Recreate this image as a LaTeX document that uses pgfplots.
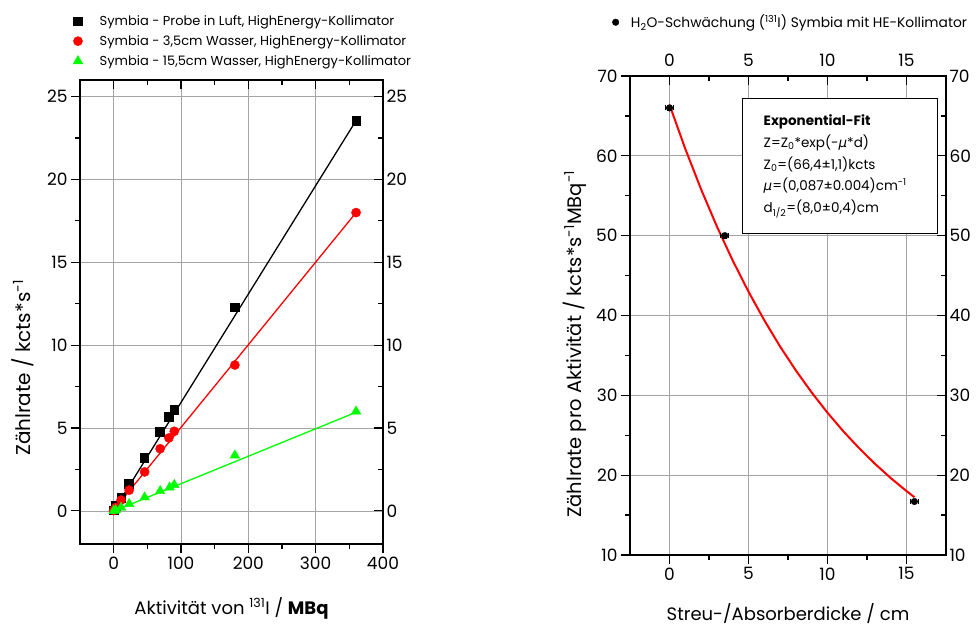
\documentclass[border=0pt]{standalone}
\usepackage{fontspec}
\setmainfont{Poppins}
\newfontfamily\gfont{DejaVu Sans}
\usepackage{pgfplots}
\pgfplotsset{compat=1.18}
\definecolor{mygreen}{RGB}{0,255,0}
\definecolor{myred}{RGB}{255,0,0}
\definecolor{gridgray}{RGB}{165,165,165}
\newcommand{\mmu}{{\gfont\itshape μ}}
\pgfplotsset{
  base/.style={scale only axis, anchor=south west,
    axis line style={line width=1.4pt},
    every tick/.style={black, line width=1.2pt},
    major tick length=9pt, minor tick length=5pt,
    tick label style={font=\fontsize{17}{20}\selectfont},
    /pgf/number format/assume math mode=true,
    label style={font=\fontsize{18}{21}\selectfont},
  },
  lpos/.style={at={(80pt,83pt)}, width=303pt, height=464pt,
    xmin=-50, xmax=400, ymin=-2, ymax=26,
    xtick={0,100,200,300,400}, ytick={0,5,10,15,20,25},
    minor x tick num=1, minor y tick num=1},
  rpos/.style={at={(630pt,72pt)}, width=316pt, height=479pt,
    xmin=-2.5, xmax=17.5, ymin=10, ymax=70,
    xtick={0,5,10,15}, ytick={10,20,30,40,50,60,70},
    minor x tick num=1, minor y tick num=1},
}
\begin{document}
\begin{tikzpicture}
\useasboundingbox (0pt,0pt) rectangle (979pt,627pt);
% ---------------- left plot ----------------
\begin{axis}[base, lpos,
  tick align=outside, xtick pos=left, ytick pos=left,
  grid=major, major grid style={gridgray, line width=0.7pt},
  xlabel={Aktivität von \textsuperscript{131}I / \textbf{MBq}},
  ylabel={Zählrate / kcts*s\textsuperscript{-1}},
  xlabel style={at={(axis description cs:0.5,-0.151)}, anchor=base},
  ylabel style={at={(axis description cs:-0.188,0.38)}, anchor=center, font=\fontsize{20}{23}\selectfont},
  legend style={at={(axis description cs:-0.033,1.148)}, anchor=north west, draw=none, fill=none,
    font=\fontsize{13}{15}\selectfont, row sep=4.5pt, column sep=15pt},
  legend cell align=left,
]
\addplot[black, line width=1.3pt, forget plot] coordinates {(0,0.0) (360,23.55)};
\addplot[myred, line width=1.3pt, forget plot] coordinates {(0,0.05) (360,18.0)};
\addplot[mygreen, line width=1.3pt, forget plot] coordinates {(-5,-0.1) (360,5.95)};
\addplot[only marks, mark=square*, mark size=4.3pt, mark options={draw=black, fill=black}] coordinates {
 (0,0.05) (3,0.3) (11,0.78) (22.5,1.63) (45.5,3.2) (68,4.78) (82,5.7) (90,6.12) (180,12.3) (360,23.55)};
\addlegendentry{Symbia - Probe in Luft, HighEnergy-Kollimator}
\addplot[only marks, mark=*, mark size=4.6pt, mark options={draw=myred, fill=myred}] coordinates {
 (0,0.02) (3,0.2) (11,0.65) (23,1.25) (46,2.35) (69,3.75) (82,4.4) (90,4.8) (180,8.8) (360,18.0)};
\addlegendentry{Symbia - 3,5cm Wasser, HighEnergy-Kollimator}
\addplot[only marks, mark=triangle*, mark size=5.5pt, mark options={draw=mygreen, fill=mygreen}] coordinates {
 (0,0) (3,0.05) (11,0.2) (23,0.42) (46,0.82) (69,1.2) (83,1.42) (90,1.57) (180,3.35) (360,6.0)};
\addlegendentry{Symbia - 15,5cm Wasser, HighEnergy-Kollimator}
\end{axis}
\begin{axis}[base, lpos,
  tick align=inside, xtick pos=right, ytick pos=right,
  xticklabels={}, yticklabel pos=right,
]
\end{axis}
% ---------------- right plot ----------------
\begin{axis}[base, rpos,
  tick align=outside, xtick pos=left, ytick pos=left,
  grid=major, major grid style={gridgray, line width=0.7pt},
  xlabel={Streu-/Absorberdicke / cm},
  ylabel={Zählrate pro Aktivität / kcts*s\textsuperscript{-1}MBq\textsuperscript{-1}},
  xlabel style={at={(axis description cs:0.5,-0.137)}, anchor=base},
  ylabel style={at={(axis description cs:-0.174,0.44)}, anchor=center, font=\fontsize{19.5}{22}\selectfont},
  legend style={at={(axis description cs:-0.066,1.136)}, anchor=north west, draw=none, fill=none,
    font=\fontsize{13.8}{16}\selectfont, column sep=10pt},
  legend cell align=left,
]
\addplot[myred, line width=2pt, forget plot] coordinates {
 (0,66.40) (1,60.87) (2,55.80) (3,51.15) (4,46.89) (5,42.98) (6,39.40) (7,36.11) (8,33.11)
 (9,30.35) (10,27.82) (11,25.50) (12,23.38) (13,21.43) (14,19.64) (15,18.01) (15.5,17.24)};
\addplot[only marks, mark=*, mark size=3.3pt, black,
  error bars/.cd, x dir=both, x explicit, y dir=both, y explicit,
  error bar style={line width=1pt}, error mark options={rotate=90, mark size=2.5pt, line width=1pt}]
  coordinates {
 (0,66) +- (0.25,0.3)
 (3.5,50) +- (0.25,0.3)
 (15.5,16.7) +- (0.25,0.3)};
\addlegendentry{H\textsubscript{2}O-Schwächung (\textsuperscript{131}I) Symbia mit HE-Kollimator}
\draw[line width=0.8pt, fill=white] (axis cs:4.6,67.25) rectangle (axis cs:16.95,50.25);
\begin{scope}[every node/.style={anchor=base west, inner sep=0pt, font=\fontsize{13.5}{16}\selectfont}]
\node at (axis cs:5.95,63.75) {\textbf{Exponential-Fit}};
\node at (axis cs:5.95,61.05) {Z=Z\textsubscript{0}*exp(-\mmu*d)};
\node at (axis cs:5.95,58.35) {Z\textsubscript{0}=(66,4±1,1)kcts};
\node at (axis cs:5.95,55.6) {\mmu=(0,087±0.004)cm\textsuperscript{-1}};
\node at (axis cs:5.95,52.85) {d\textsubscript{1/2}=(8,0±0,4)cm};
\end{scope}
\end{axis}
\begin{axis}[base, rpos,
  tick align=inside, xtick pos=right, ytick pos=right,
  xticklabel pos=right, yticklabel pos=right, xticklabel shift=6pt,
]
\end{axis}
\end{tikzpicture}
\end{document}
